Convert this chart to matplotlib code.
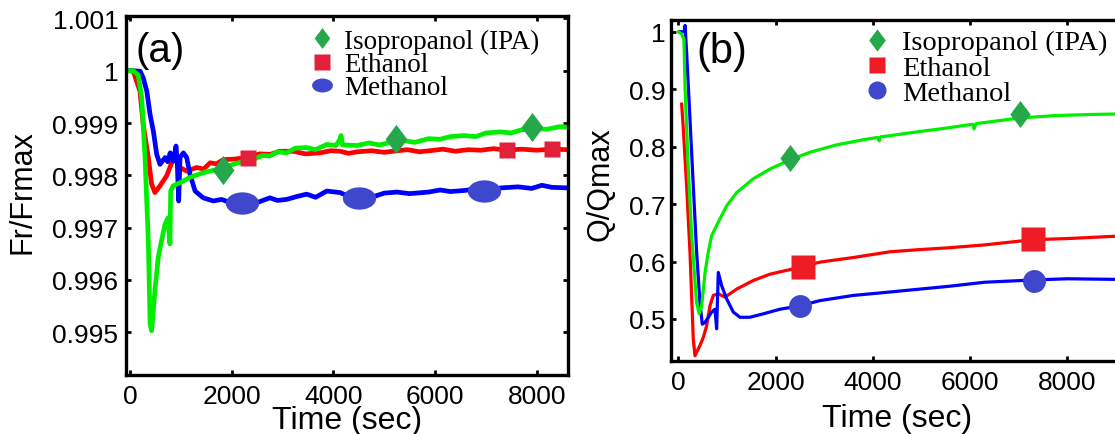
import numpy as np
import matplotlib.pyplot as plt
import matplotlib.transforms as mtransforms
from matplotlib.path import Path
from matplotlib.lines import Line2D

# ---------------- data: panel (a)  Fr/Frmax ----------------
ipa_a_t = [0, 60, 160, 230, 295, 360, 395, 425, 490, 555, 620, 690, 750, 785, 800,
           850, 985, 1180, 1440, 1700, 2030, 2200, 2430, 2600, 2750, 2900, 3080, 3250,
           3475, 3650, 3870, 4050, 4130, 4150, 4180, 4470, 4700, 4900, 5170, 5400, 5600,
           5870, 6100, 6300, 6570, 6800, 7000, 7280, 7500, 7700, 7980, 8200, 8450, 8614]
ipa_a_v = [1.0, 1.0, 0.99992, 0.99948, 0.99834, 0.99675, 0.99516, 0.99503, 0.99580,
           0.99643, 0.99675, 0.99707, 0.99719, 0.99669, 0.99770, 0.99780, 0.99786,
           0.99796, 0.99805, 0.99811, 0.99821, 0.99826, 0.99830, 0.99838, 0.99837,
           0.99845, 0.99843, 0.99852, 0.99853, 0.99849, 0.99859, 0.99857, 0.99869,
           0.99876, 0.99858, 0.99857, 0.99862, 0.99858, 0.99864, 0.99866, 0.99863,
           0.99870, 0.99869, 0.99874, 0.99876, 0.99874, 0.99881, 0.99883, 0.99881,
           0.99887, 0.99889, 0.99888, 0.99893, 0.99892]

eth_a_t = [0, 60, 195, 260, 360, 425, 490, 590, 720, 820, 885, 985, 1115, 1310, 1450,
           1575, 1700, 1835, 2050, 2300, 2550, 2750, 2950, 3210, 3450, 3740, 3950, 4130,
           4300, 4470, 4750, 5000, 5170, 5450, 5700, 5900, 6150, 6400, 6650, 6900, 7150,
           7415, 7700, 8000, 8300, 8614]
eth_a_v = [1.0, 1.0, 0.99961, 0.99897, 0.99834, 0.99783, 0.99767, 0.99780, 0.99799,
           0.99824, 0.99834, 0.99815, 0.99808, 0.99815, 0.99812, 0.99824, 0.99822,
           0.99830, 0.99831, 0.99834, 0.99841, 0.99840, 0.99846, 0.99846, 0.99841,
           0.99843, 0.99847, 0.99846, 0.99842, 0.99845, 0.99847, 0.99844, 0.99846,
           0.99849, 0.99845, 0.99847, 0.99850, 0.99846, 0.99849, 0.99848, 0.99851,
           0.99848, 0.99850, 0.99848, 0.99850, 0.99849]

met_a_t = [0, 200, 260, 330, 395, 460, 525, 590, 690, 740, 790, 850, 905, 930, 957, 984,
           1050, 1115, 1180, 1280, 1440, 1640, 1800, 1970, 2200, 2450, 2750, 2900, 3080,
           3300, 3475, 3650, 3870, 4130, 4300, 4500, 4750, 5000, 5250, 5500, 5870, 6100,
           6300, 6570, 6800, 7000, 7300, 7630, 7900, 8100, 8300, 8614]
met_a_v = [1.0, 0.99999, 0.99986, 0.99961, 0.99916, 0.99884, 0.99840, 0.99821, 0.99834,
           0.99826, 0.99843, 0.99827, 0.99856, 0.99821, 0.99751, 0.99834, 0.99843,
           0.99834, 0.99802, 0.99770, 0.99757, 0.99751, 0.99754, 0.99748, 0.99750,
           0.99746, 0.99757, 0.99752, 0.99754, 0.99760, 0.99764, 0.99758, 0.99770,
           0.99767, 0.99760, 0.99762, 0.99758, 0.99766, 0.99768, 0.99765, 0.99768,
           0.99772, 0.99769, 0.99771, 0.99774, 0.99770, 0.99776, 0.99778, 0.99775,
           0.99781, 0.99777, 0.99776]

ipa_a_mt = [1836, 5240, 7910]
ipa_a_mv = [0.99811, 0.99870, 0.99892]
eth_a_mt = [2328, 7415, 8300]
eth_a_mv = [0.99834, 0.99848, 0.99850]
met_a_mt = [2197, 4500, 6960]
met_a_mv = [0.99747, 0.99757, 0.99770]

# ---------------- data: panel (b)  Q/Qmax ----------------
ipa_b_t = [0, 70, 115, 137, 205, 275, 375, 430, 480, 550, 615, 685, 755, 855, 995, 1200,
           1540, 1885, 2330, 2700, 3250, 3800, 4100, 4130, 4160, 4350, 4850, 5570, 6050,
           6080, 6120, 6300, 7030, 7750, 8500, 9182]
ipa_b_v = [1.0, 0.996, 0.987, 0.906, 0.761, 0.645, 0.529, 0.509, 0.523, 0.581, 0.616,
           0.645, 0.657, 0.674, 0.697, 0.720, 0.744, 0.761, 0.778, 0.790, 0.803, 0.812,
           0.816, 0.810, 0.817, 0.819, 0.825, 0.833, 0.839, 0.831, 0.840, 0.842, 0.850,
           0.854, 0.856, 0.857]

eth_b_t = [69, 103, 171, 240, 308, 343, 445, 514, 582, 651, 719, 822, 959, 1199, 1542,
           1884, 2556, 2912, 3597, 4351, 5000, 5573, 6300, 7283, 8000, 8976, 9182]
eth_b_v = [0.874, 0.831, 0.732, 0.616, 0.465, 0.436, 0.454, 0.468, 0.488, 0.523, 0.541,
           0.544, 0.538, 0.552, 0.567, 0.578, 0.591, 0.599, 0.607, 0.617, 0.621, 0.624,
           0.629, 0.638, 0.640, 0.644, 0.645]

met_b_t = [30, 120, 140, 171, 240, 308, 377, 445, 493, 548, 617, 685, 754, 788, 822, 891,
           994, 1131, 1268, 1473, 1747, 2090, 2501, 2912, 3597, 4351, 5573, 6300, 7313,
           8000, 8976, 9182]
met_b_v = [1.0, 1.0, 1.011, 0.964, 0.848, 0.732, 0.616, 0.529, 0.491, 0.494, 0.503, 0.512,
           0.517, 0.483, 0.581, 0.558, 0.535, 0.512, 0.503, 0.503, 0.509, 0.517, 0.523,
           0.532, 0.541, 0.547, 0.557, 0.564, 0.568, 0.570, 0.569, 0.569]

ipa_b_mt = [2300, 7020]
ipa_b_mv = [0.780, 0.857]
eth_b_mt = [2556, 7283]
eth_b_mv = [0.590, 0.639]
met_b_mt = [2501, 7313]
met_b_mv = [0.523, 0.567]

# ---------------- ticks / labels ----------------
xticks = [0, 2000, 4000, 6000, 8000]
xtick_labels = ["0", "2000", "4000", "6000", "8000"]
a_yticks = [0.995, 0.996, 0.997, 0.998, 0.999, 1.0, 1.001]
a_ytick_labels = ["0.995", "0.996", "0.997", "0.998", "0.999", "1", "1.001"]
b_yticks = [0.5, 0.6, 0.7, 0.8, 0.9, 1.0]
b_ytick_labels = ["0.5", "0.6", "0.7", "0.8", "0.9", "1"]
names = ["Isopropanol (IPA)", "Ethanol", "Methanol"]

# colours
line_g, line_r, line_b = "#00ee00", "#ff0000", "#0000ff"
mk_g, mk_r_a, mk_r_b, mk_b = "#24a84a", "#e3203c", "#ee1c24", "#3f48cc"

# marker shapes
diamond = Path([(0, 1), (0.75, 0), (0, -1), (-0.75, 0), (0, 1)],
               [Path.MOVETO, Path.LINETO, Path.LINETO, Path.LINETO, Path.CLOSEPOLY])
ellipse = Path.unit_circle().transformed(mtransforms.Affine2D().scale(1.0, 0.67))

plt.rcParams["font.family"] = ["Liberation Sans", "DejaVu Sans"]

fig = plt.figure(figsize=(11.15, 4.35), dpi=100)
ax1 = fig.add_axes([126 / 1115, 59 / 435, 442 / 1115, 359 / 435])
ax2 = fig.add_axes([671 / 1115, 73 / 435, 454 / 1115, 341 / 435])


def style(ax, ypad, xpad):
    for s in ax.spines.values():
        s.set_linewidth(2.4)
    ax.tick_params(direction="in", length=3.5, width=2, top=True, right=True,
                   labelsize=19)
    ax.tick_params(axis="y", pad=ypad)
    ax.tick_params(axis="x", pad=xpad)
    ax.set_xticks(xticks, xtick_labels)


# ---- panel (a)
ax1.plot(eth_a_t, eth_a_v, color=line_r, lw=3.4)
ax1.plot(met_a_t, met_a_v, color=line_b, lw=3.4)
ax1.plot(ipa_a_t, ipa_a_v, color=line_g, lw=3.4)
ax1.plot(ipa_a_mt, ipa_a_mv, ls="none", marker=diamond, ms=21, color=mk_g, mec="none")
ax1.plot(eth_a_mt, eth_a_mv, ls="none", marker="s", ms=12, color=mk_r_a, mec="none")
ax1.plot(met_a_mt, met_a_mv, ls="none", marker=ellipse, ms=24, color=mk_b, mec="none")
ax1.set_xlim(-79, 8614)
ax1.set_ylim(0.994184, 1.001045)
style(ax1, 5.5, 6.3)
ax1.set_yticks(a_yticks, a_ytick_labels)
ax1.set_ylabel("Fr/Frmax", fontsize=22, va="center")
ax1.yaxis.set_label_coords(-0.235, 0.512)
ax1.set_xlabel("Time (sec)", fontsize=23, va="top")
ax1.xaxis.set_label_coords(0.5, -0.084)
ax1.text(0.078, 0.905, "(a)", transform=ax1.transAxes, fontsize=29,
         ha="center", va="center")
h_a = [Line2D([], [], ls="none", marker=diamond, ms=15, color=mk_g, mec="none"),
       Line2D([], [], ls="none", marker="s", ms=11, color=mk_r_a, mec="none"),
       Line2D([], [], ls="none", marker=ellipse, ms=15, color=mk_b, mec="none")]
ax1.legend(h_a, names, loc="upper left", bbox_to_anchor=(0.42, 0.965), frameon=False,
           borderpad=0, borderaxespad=0, handlelength=0.8, handletextpad=0.4,
           labelspacing=-0.06, prop={"family": "Liberation Serif", "size": 19.5})

# ---- panel (b)
ax2.plot(eth_b_t, eth_b_v, color=line_r, lw=2.3)
ax2.plot(met_b_t, met_b_v, color=line_b, lw=2.3)
ax2.plot(ipa_b_t, ipa_b_v, color=line_g, lw=2.3)
ax2.plot(ipa_b_mt, ipa_b_mv, ls="none", marker=diamond, ms=19.5, color=mk_g, mec="none")
ax2.plot(eth_b_mt, eth_b_mv, ls="none", marker="s", ms=17, color=mk_r_b, mec="none")
ax2.plot(met_b_mt, met_b_mv, ls="none", marker="o", ms=16.5, color=mk_b, mec="none")
ax2.set_xlim(-150, 9182)
ax2.set_ylim(0.4269, 1.0204)
style(ax2, 3.6, 6.3)
ax2.set_yticks(b_yticks, b_ytick_labels)
ax2.set_ylabel("Q/Qmax", fontsize=22, va="center")
ax2.yaxis.set_label_coords(-0.156, 0.522)
ax2.set_xlabel("Time (sec)", fontsize=23, va="top")
ax2.xaxis.set_label_coords(0.497, -0.124)
ax2.text(0.112, 0.91, "(b)", transform=ax2.transAxes, fontsize=30,
         ha="center", va="center")
h_b = [Line2D([], [], ls="none", marker=diamond, ms=16, color=mk_g, mec="none"),
       Line2D([], [], ls="none", marker="s", ms=12, color=mk_r_b, mec="none"),
       Line2D([], [], ls="none", marker="o", ms=13, color=mk_b, mec="none")]
ax2.legend(h_b, names, loc="upper left", bbox_to_anchor=(0.428, 0.972), frameon=False,
           borderpad=0, borderaxespad=0, handlelength=0.8, handletextpad=0.5,
           labelspacing=-0.03, prop={"family": "Liberation Serif", "size": 20.5})

fig.savefig("out.png", dpi=100)
